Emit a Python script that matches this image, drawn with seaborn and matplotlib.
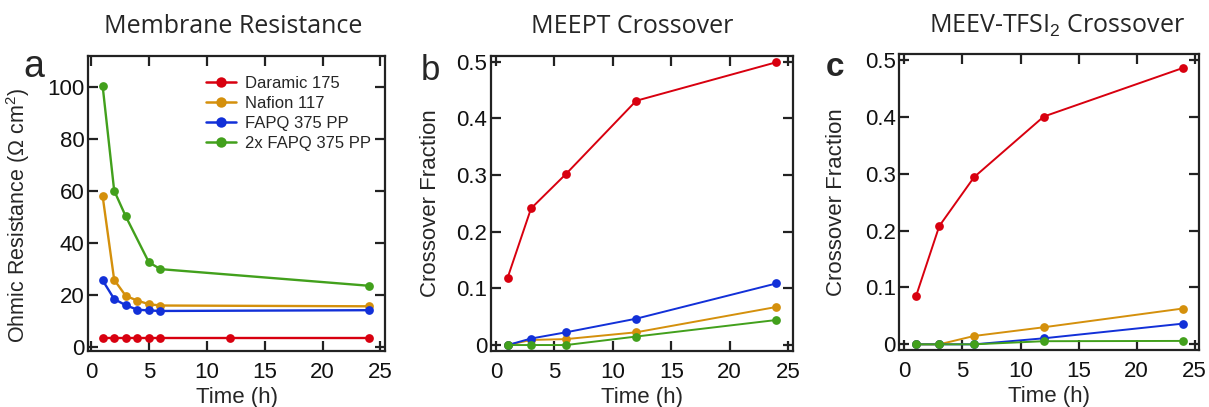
import numpy as np
import pandas as pd
import matplotlib
matplotlib.use("Agg")
import matplotlib.pyplot as plt
import seaborn as sns
from matplotlib.ticker import FuncFormatter

# ---------------- data ----------------
series_names = ["Daramic 175", "Nafion 117", "FAPQ 375 PP", "2x FAPQ 375 PP"]
colors = ["#d8000f", "#d4900c", "#1230d8", "#42a01c"]

# panel a: membrane resistance
a_time_daramic = [1, 2, 3, 4, 5, 6, 12, 24]
a_res_daramic = [3.6, 3.6, 3.6, 3.6, 3.6, 3.6, 3.6, 3.6]
a_time_nafion = [1, 2, 3, 4, 5, 6, 24]
a_res_nafion = [58.2, 25.9, 19.7, 17.9, 16.5, 16.0, 15.7]
a_time_fapq = [1, 2, 3, 4, 5, 6, 24]
a_res_fapq = [25.7, 18.5, 16.1, 14.4, 14.1, 13.9, 14.2]
a_time_2fapq = [1, 2, 3, 5, 6, 24]
a_res_2fapq = [100.6, 60.2, 50.3, 32.6, 30.0, 23.6]

# panel b: MEEPT crossover
b_time = [1, 3, 6, 12, 24]
b_daramic = [0.119, 0.241, 0.302, 0.431, 0.499]
b_nafion = [0.0, 0.009, 0.0105, 0.0225, 0.0672]
b_fapq = [0.0, 0.0115, 0.0225, 0.0465, 0.1087]
b_2fapq = [0.0, 0.0, 0.0, 0.015, 0.0442]

# panel c: MEEV-TFSI2 crossover
c_time = [1, 3, 6, 12, 24]
c_daramic = [0.085, 0.208, 0.294, 0.4005, 0.486]
c_nafion = [0.0, 0.0, 0.0147, 0.030, 0.063]
c_fapq = [0.0, 0.0, 0.0, 0.0106, 0.0364]
c_2fapq = [0.0, 0.0, 0.0, 0.0055, 0.006]


def long_df(pairs):
    rows = []
    for name, (t, v) in zip(series_names, pairs):
        for ti, vi in zip(t, v):
            rows.append({"Time": ti, "Value": vi, "Membrane": name})
    return pd.DataFrame(rows)


df_a = long_df([(a_time_daramic, a_res_daramic), (a_time_nafion, a_res_nafion),
                (a_time_fapq, a_res_fapq), (a_time_2fapq, a_res_2fapq)])
df_b = long_df([(b_time, b_daramic), (b_time, b_nafion),
                (b_time, b_fapq), (b_time, b_2fapq)])
df_c = long_df([(c_time, c_daramic), (c_time, c_nafion),
                (c_time, c_fapq), (c_time, c_2fapq)])

# ---------------- style ----------------
sns.set_theme(style="white")
plt.rcParams["font.family"] = ["Liberation Sans", "DejaVu Sans"]
plt.rcParams["mathtext.fontset"] = "custom"
plt.rcParams["mathtext.rm"] = "Liberation Sans"
plt.rcParams["mathtext.it"] = "Liberation Sans:italic"

palette = dict(zip(series_names, colors))

fig = plt.figure(figsize=(12.09, 4.07), dpi=100)
ax_a = fig.add_axes([0.0728, 0.1376, 0.2457, 0.7248])
ax_b = fig.add_axes([0.4059, 0.1383, 0.2498, 0.7241])
ax_c = fig.add_axes([0.7438, 0.1400, 0.2481, 0.7266])

tick_fs = 16
label_fs = 16
title_font = ["Open Sans", "DejaVu Sans"]

for ax, df, lw in [(ax_a, df_a, 1.7), (ax_b, df_b, 1.4), (ax_c, df_c, 1.4)]:
    sns.lineplot(data=df, x="Time", y="Value", hue="Membrane",
                 hue_order=series_names, palette=palette, ax=ax,
                 marker="o", markersize=6.3, markeredgewidth=0,
                 linewidth=lw, legend=(ax is ax_a), sort=False,
                 estimator=None)
    for s in ax.spines.values():
        s.set_linewidth(1.6)
        s.set_color("#222222")
        s.set_visible(True)
    ax.tick_params(direction="in", length=7, width=1.6, color="#222222",
                   top=True, right=True, bottom=True, left=True,
                   labelsize=tick_fs, labelcolor="#111111")
    ax.tick_params(axis="x", pad=8)
    ax.tick_params(axis="y", pad=2.5)
    ax.set_xticks([0, 5, 10, 15, 20, 25])
    ax.set_xlabel("Time (h)", fontsize=label_fs, labelpad=3)
    ax.grid(False)

ax_a.set_xlim(-0.26, 25.4)
ax_a.set_ylim(-1.5, 112)
ax_a.set_yticks([0, 20, 40, 60, 80, 100])
ax_a.set_ylabel("Ohmic Resistance ($\\Omega$ cm$^2$)", fontsize=15.5)
ax_a.yaxis.set_label_coords(-0.19, 0.46)

fmt = FuncFormatter(lambda v, p: "0" if abs(v) < 1e-9 else f"{v:.1f}")
for ax, lp in ((ax_b, 11), (ax_c, 13)):
    ax.set_xlim(-0.45, 25.4)
    ax.set_ylim(-0.01, 0.51)
    ax.set_yticks([0, 0.1, 0.2, 0.3, 0.4, 0.5])
    ax.yaxis.set_major_formatter(fmt)
    ax.set_ylabel("Crossover Fraction", fontsize=label_fs, labelpad=lp)

leg = ax_a.legend(loc="upper right", frameon=False, fontsize=12,
                  handlelength=1.8, handletextpad=0.5, labelspacing=0.3,
                  bbox_to_anchor=(0.985, 0.965), borderaxespad=0.2)
for h in leg.legend_handles:
    h.set_linewidth(1.8)
    h.set_markersize(7.5)

# titles
fig.text(233 / 1209, 1 - 33 / 407, "Membrane Resistance", ha="center", va="baseline",
         fontsize=18, family=title_font)
fig.text(632 / 1209, 1 - 33 / 407, "MEEPT Crossover", ha="center", va="baseline",
         fontsize=18, family=title_font)
fig.text(1057 / 1209, 1 - 33 / 407, "MEEV-TFSI$_2$ Crossover", ha="center", va="baseline",
         fontsize=18, family=title_font)

# panel letters
fig.text(34 / 1209, 1 - 67 / 407, "a", ha="center", va="center", fontsize=27)
fig.text(430 / 1209, 1 - 70 / 407, "b", ha="center", va="center", fontsize=25)
fig.text(835 / 1209, 1 - 68 / 407, "c", ha="center", va="center", fontsize=24,
         fontweight="bold")

fig.savefig("out.png", dpi=100)
